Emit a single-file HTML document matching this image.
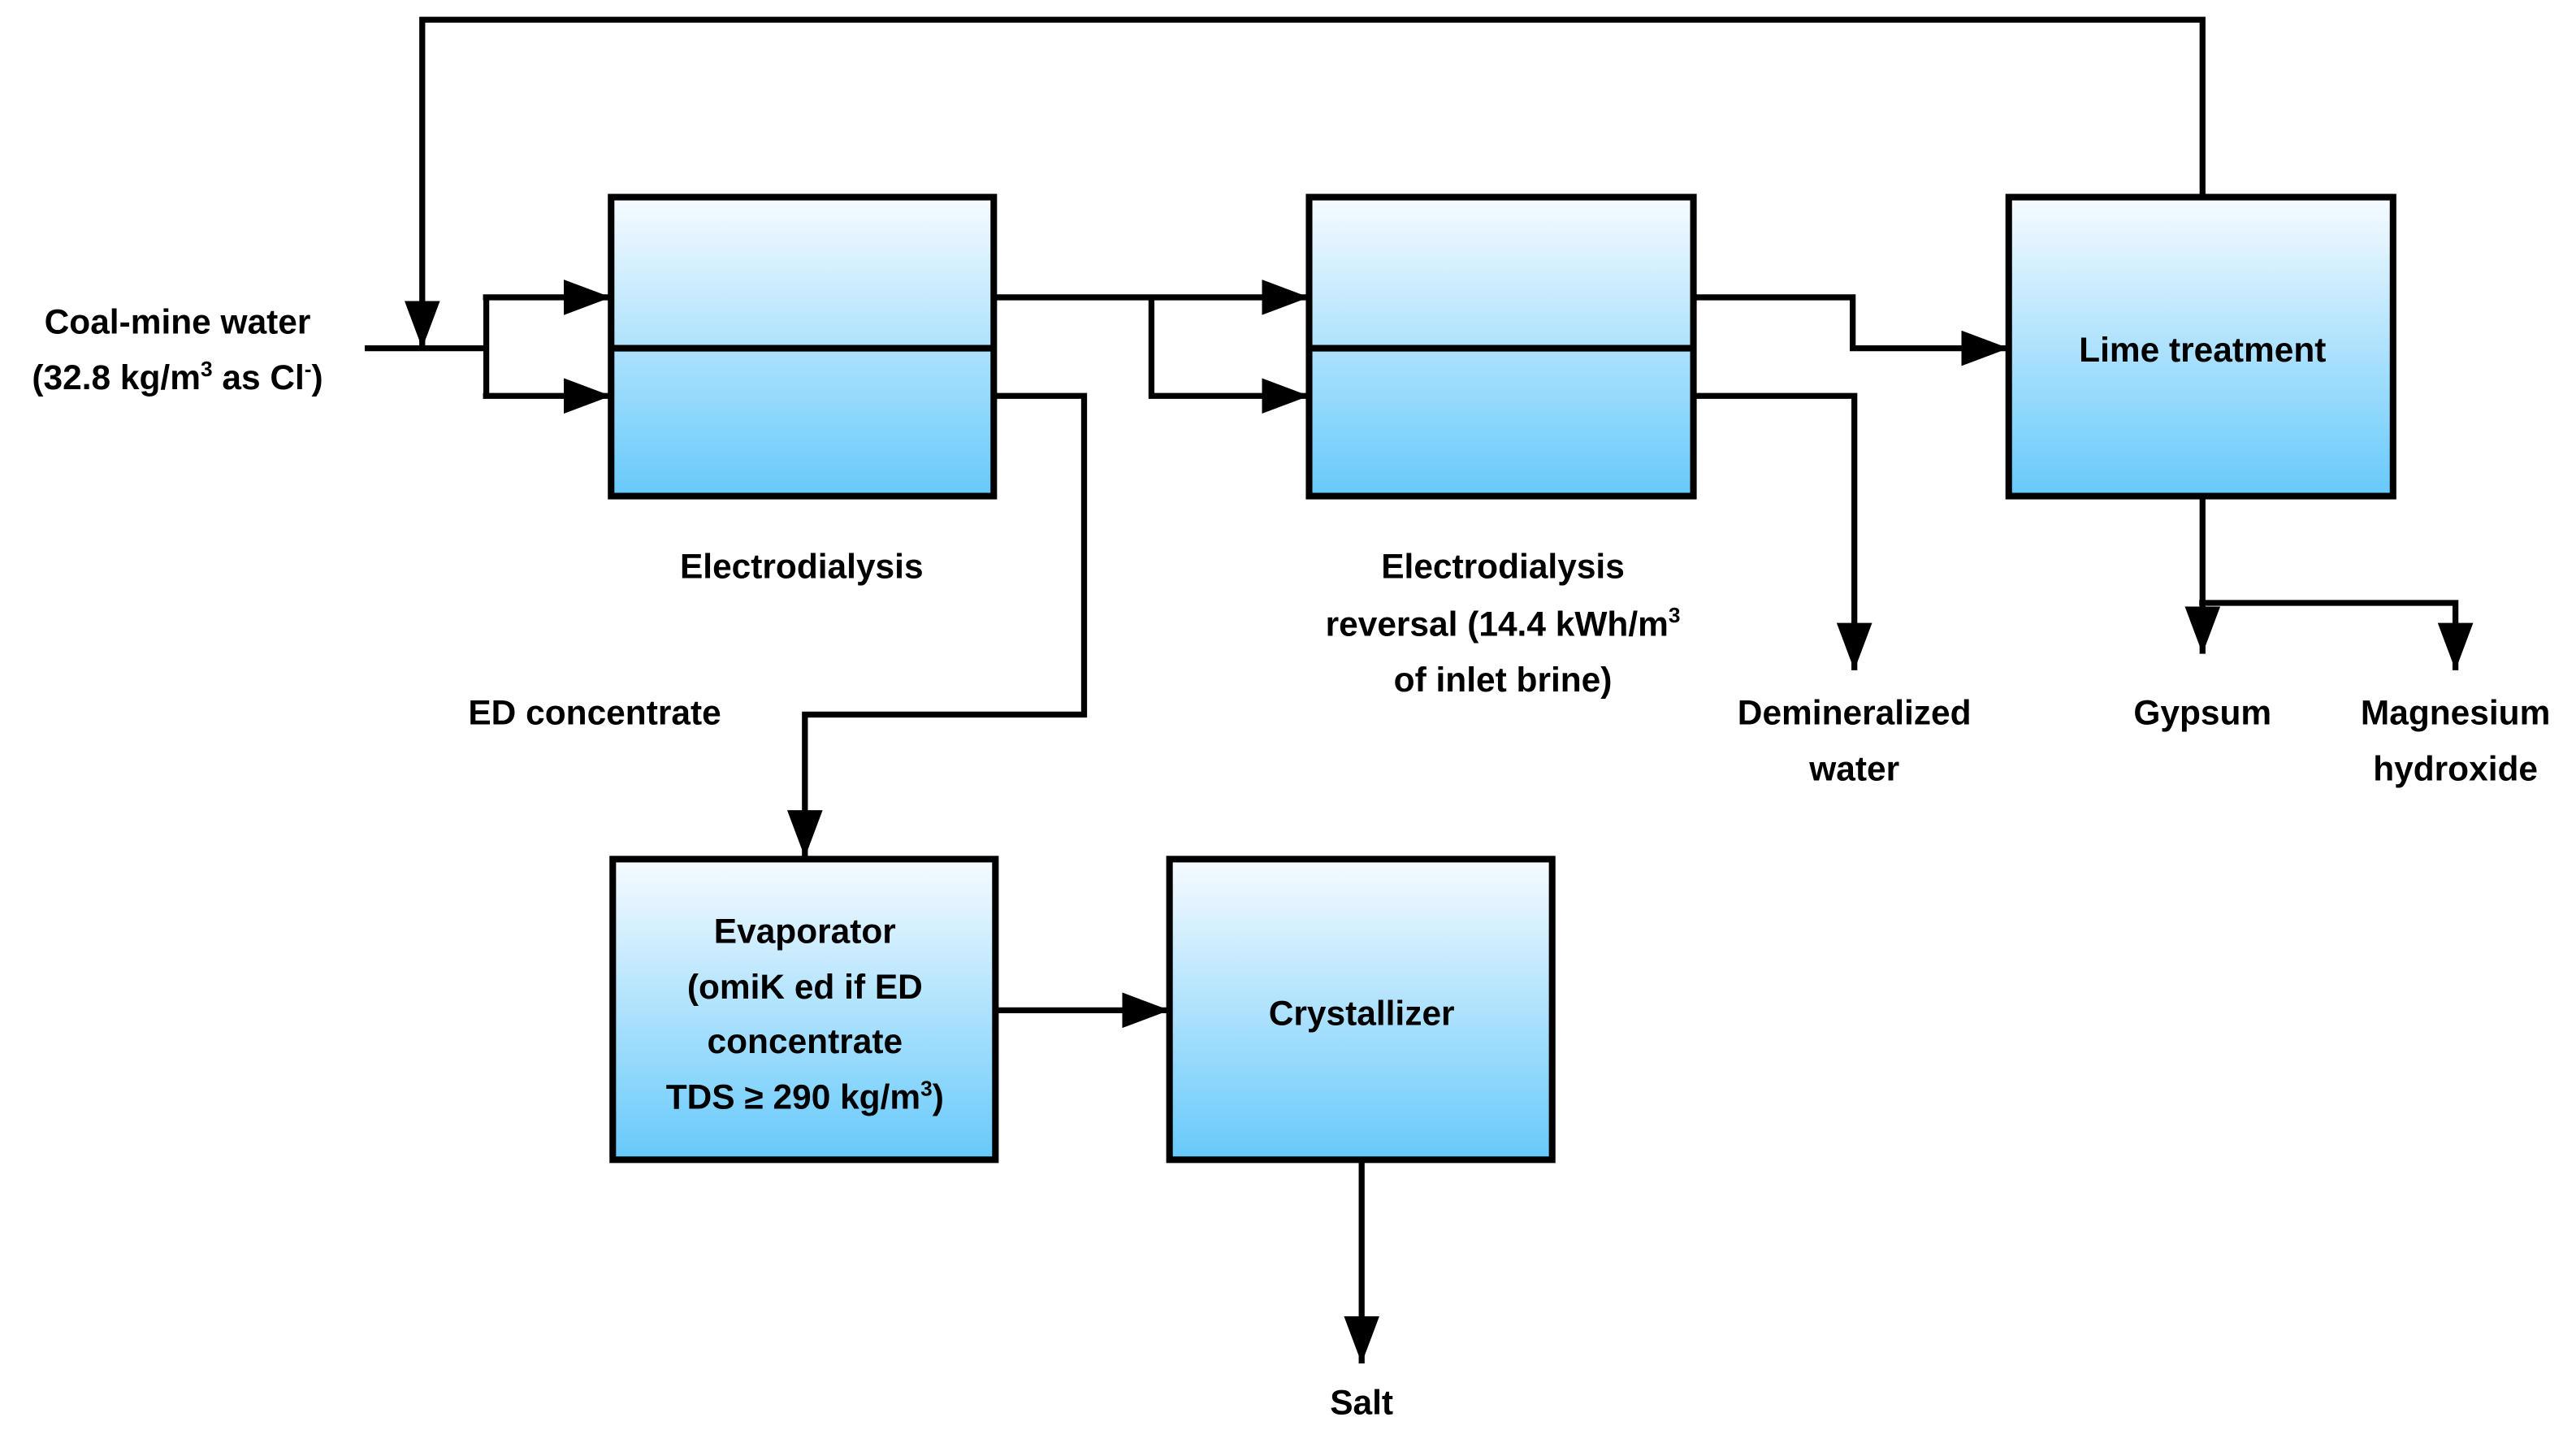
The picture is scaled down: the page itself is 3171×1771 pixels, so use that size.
<!DOCTYPE html>
<html><head><meta charset="utf-8"><style>
html,body{margin:0;padding:0;background:#fff;}
svg{display:block;}
text{font-family:"Liberation Sans",sans-serif;font-weight:bold;font-size:21px;fill:#000;text-anchor:middle;}
</style></head><body>
<svg width="3171" height="1771" viewBox="0 0 1568.3 876" xmlns="http://www.w3.org/2000/svg">
<defs>
<linearGradient id="g" x1="0" y1="0" x2="0" y2="1">
<stop offset="0" stop-color="#f7fbff"/><stop offset="1" stop-color="#66c9fb"/>
</linearGradient>
<marker id="a" markerWidth="8" markerHeight="6" refX="8" refY="3" orient="auto" markerUnits="strokeWidth">
<path d="M0,0 L8,3 L0,6 Z" fill="#000"/>
</marker>
</defs>
<g fill="none" stroke="#000" stroke-width="3.6">
<!-- feedback -->
<polyline points="1341,120 1341,12 257,12 257,212" marker-end="url(#a)"/>
<!-- input -->
<polyline points="222,212 296,212"/>
<polyline points="296,181 296,241"/>
<polyline points="294,181 372,181" marker-end="url(#a)"/>
<polyline points="294,241 372,241" marker-end="url(#a)"/>
<!-- ED outputs -->
<polyline points="605,181 797,181" marker-end="url(#a)"/>
<polyline points="701,181 701,241 797,241" marker-end="url(#a)"/>
<polyline points="605,241 660,241 660,435 490,435 490,522" marker-end="url(#a)"/>
<!-- EDR outputs -->
<polyline points="1031,181 1128,181 1128,212 1223,212" marker-end="url(#a)"/>
<polyline points="1031,241 1129,241 1129,408" marker-end="url(#a)"/>
<!-- Lime outputs -->
<polyline points="1341,302 1341,398" marker-end="url(#a)"/>
<polyline points="1339,367 1495,367 1495,408" marker-end="url(#a)"/>
<!-- evap -> cryst -->
<polyline points="606,615 712,615" marker-end="url(#a)"/>
<polyline points="829,706 829,830" marker-end="url(#a)"/>
</g>
<g stroke="#000" stroke-width="4" fill="url(#g)">
<rect x="372" y="120" width="233" height="182"/>
<line x1="372" y1="212" x2="605" y2="212"/>
<rect x="797" y="120" width="234" height="182"/>
<line x1="797" y1="212" x2="1031" y2="212"/>
<rect x="1223" y="120" width="234" height="182"/>
<rect x="373" y="523" width="233" height="183"/>
<rect x="712" y="523" width="233" height="183"/>
</g>
<text x="1341" y="220">Lime treatment</text>
<text x="490" y="574">Evaporator</text>
<text x="490" y="608">(omiK ed if ED</text>
<text x="490" y="641">concentrate</text>
<text x="490" y="675">TDS ≥ 290 kg/m<tspan dy="-8" font-size="13">3</tspan><tspan dy="8">)</tspan></text>
<text x="829" y="624">Crystallizer</text>
<text x="108" y="203">Coal-mine water</text>
<text x="108" y="237">(32.8 kg/m<tspan dy="-8" font-size="13">3</tspan><tspan dy="8"> as Cl</tspan><tspan dy="-8" font-size="13">-</tspan><tspan dy="8">)</tspan></text>
<text x="488" y="352">Electrodialysis</text>
<text x="362" y="441">ED concentrate</text>
<text x="915" y="352">Electrodialysis</text>
<text x="915" y="387">reversal (14.4 kWh/m<tspan dy="-8" font-size="13">3</tspan></text>
<text x="915" y="421">of inlet brine)</text>
<text x="1129" y="441">Demineralized</text>
<text x="1129" y="475">water</text>
<text x="1341" y="441">Gypsum</text>
<text x="1495" y="441">Magnesium</text>
<text x="1495" y="475">hydroxide</text>
<text x="829" y="861">Salt</text>
</svg>
</body></html>
